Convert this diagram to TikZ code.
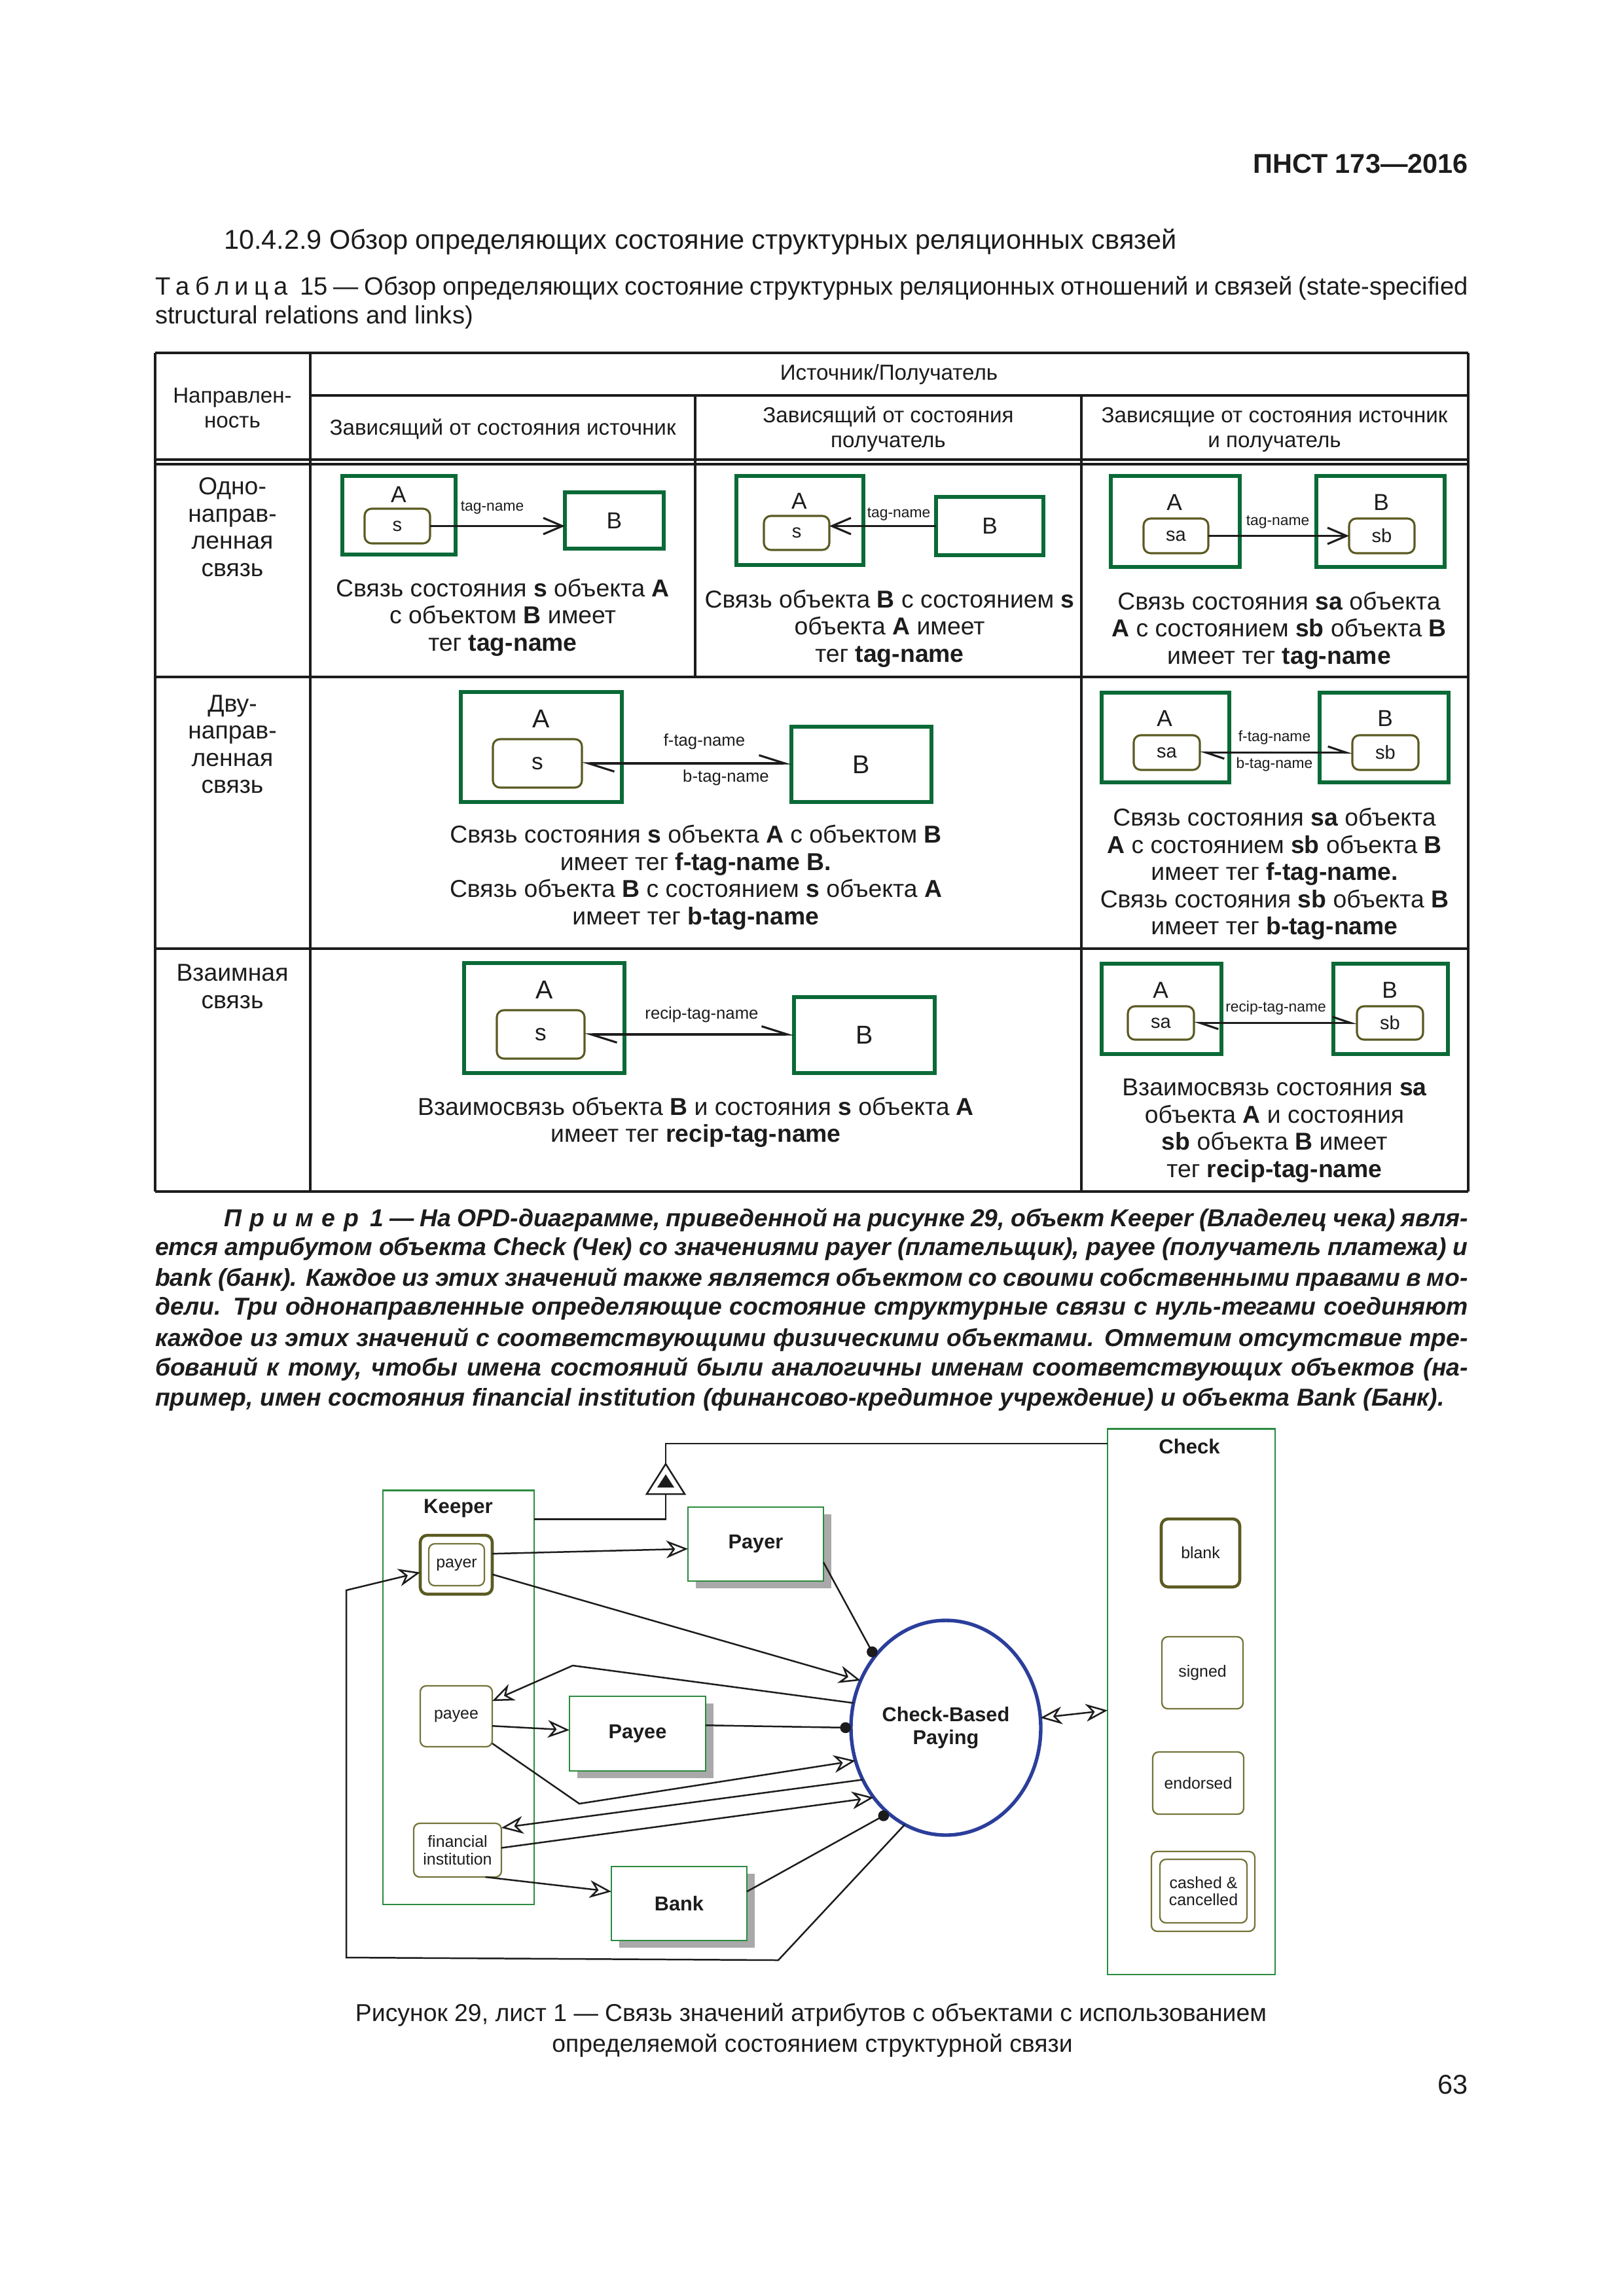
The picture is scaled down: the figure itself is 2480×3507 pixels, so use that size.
\documentclass[tikz,border=0pt]{standalone}
\usepackage{fontspec}
\setmainfont{Liberation Sans}
\usetikzlibrary{arrows.meta,shapes.geometric,shadows}
\definecolor{ink}{HTML}{1C1C1C}
\definecolor{tgreen}{HTML}{0B6A37}
\definecolor{dgreen}{HTML}{2B8B3F}
\definecolor{olivec}{HTML}{5A5A22}
\definecolor{olivel}{HTML}{74743A}
\definecolor{eblue}{HTML}{2B3E9B}
\definecolor{shade}{HTML}{A9A9A9}
\newdimen\pxd
\pxd=0.24093pt
\newcommand\fs[2]{\fontsize{#1}{#2}\selectfont}
\begin{document}
\begin{tikzpicture}[x=0.0084677cm,y=-0.0084677cm,
 every node/.style={inner sep=0pt,outer sep=0pt,text=ink},
 sz/.style 2 args={minimum width=#1*\pxd,minimum height=#2*\pxd},
 tline/.style={draw=ink,line width=0.75pt},
 tbox/.style={draw=tgreen,line width=1.25pt},
 tst/.style={draw=olivec,line width=0.75pt,rounded corners=2.6pt},
 tarr/.style={draw=ink,line width=0.75pt,-{Straight Barb[length=7pt,width=6pt]}},
 harpw/.style={draw=ink,line width=0.75pt,{Straight Barb[left,length=9.5pt,width=6pt]}-{Straight Barb[left,length=9.5pt,width=6pt]}},
 harpn/.style={draw=ink,line width=0.75pt,{Straight Barb[left,length=6.7pt,width=4.5pt]}-{Straight Barb[left,length=6.7pt,width=4.5pt]}},
 cell/.style={align=center,font=\fs{9}{10}},
 hcell/.style={align=center,font=\fs{8}{9.2}},
 ltr/.style={font=\fs{8.5}{9}},
 ltrw/.style={font=\fs{9.5}{10}},
 stt/.style={font=\fs{7}{8}},
 sttw/.style={font=\fs{8.5}{9}},
 tag/.style={font=\fs{5.5}{6}},
 tagw/.style={font=\fs{6.2}{7}},
 body/.style={font=\fs{10}{12}},
 capf/.style={font=\fs{9.2}{11}},
 figc/.style={font=\fs{9}{11}},
 expl/.style={font=\fs{9}{11}\bfseries\itshape},
 dcont/.style={draw=dgreen,line width=0.7pt},
 dobj/.style={draw=dgreen,line width=0.7pt,fill=white,font=\fs{7.4}{9}\bfseries,drop shadow={shadow xshift=2.9pt,shadow yshift=-2.7pt,fill=shade,opacity=1}},
 dttl/.style={font=\fs{7.5}{9}\bfseries},
 dst/.style={draw=olivel,line width=0.55pt,rounded corners=2.2pt,align=center,font=\fs{6}{6.4}},
 dstk/.style={draw=olivec,line width=1.1pt,rounded corners=2.6pt,font=\fs{6}{6.4}},
 dlink/.style={draw=ink,line width=0.6pt},
 oarr/.style={dlink,-{Stealth[open,length=8pt,width=6.5pt,inset=2.5pt]}},
 darr/.style={dlink,{Stealth[open,length=8pt,width=6.5pt,inset=2.5pt]}-{Stealth[open,length=8pt,width=6.5pt,inset=2.5pt]}},
 dotl/.style={dlink,-{Circle[length=4pt]}}
]
\useasboundingbox (0,0) rectangle (2480,3507);
\fill[white] (0,0) rectangle (2480,3507);

% ---------- page texts ----------
\node[anchor=east,font=\fs{10}{12}\bfseries] (hdr) at (2243,250) {ПНСТ 173—2016};
\node[anchor=west,body] (sec) at (342,369) {10.4.2.9 Обзор определяющих состояние структурных реляционных связей};
\node[anchor=west,capf] (cap1) at (237,440) {\makebox[2006\pxd][s]{Т\kern2pt а\kern2pt б\kern2pt л\kern2pt и\kern2pt ц\kern2pt а\ \ 15 — Обзор определяющих состояние структурных реляционных отношений и связей (state-specified}};
\node[anchor=west,capf] (cap2) at (237,485) {structural relations and links)};

% ---------- table grid ----------
\draw[tline] (237,539) -- (2243,539);
\draw[tline] (474,604) -- (2243,604);
\draw[tline] (237,702) -- (2243,702);
\draw[tline] (237,709) -- (2243,709);
\draw[tline] (237,1034) -- (2243,1034);
\draw[tline] (237,1449) -- (2243,1449);
\draw[tline] (237,1820) -- (2243,1820);
\draw[tline] (237,539) -- (237,1820);
\draw[tline] (2243,539) -- (2243,1820);
\draw[tline] (474,539) -- (474,1820);
\draw[tline] (1062,604) -- (1062,1034);
\draw[tline] (1652,604) -- (1652,1820);

% header
\node[hcell] (h0) at (355,623) {Направлен-\\ность};
\node[hcell] (h1) at (1358,572) {Источник/Получатель};
\node[hcell] (h2) at (768,655) {Зависящий от состояния источник};
\node[hcell] (h3) at (1357,656) {Зависящий от состояния\\получатель};
\node[hcell] (h4) at (1947,656) {Зависящие от состояния источник\\и получатель};

% row labels
\node[cell] (r1) at (355,805) {Одно-\\направ-\\ленная\\связь};
\node[cell] (r2) at (355,1137) {Дву-\\направ-\\ленная\\связь};
\node[cell] (r3) at (355,1507) {Взаимная\\связь};

% ---------- row 1, col 2 ----------
\node[tbox,sz={173}{120}] (a1) at (609.5,787) {};
\node[ltr] (a1t) at (609,755) {A};
\node[tst,sz={100}{53},stt] (s1) at (607,803.5) {s};
\node[tbox,sz={151}{86},ltr] (b1) at (938.5,795) {B};
\draw[tarr] (s1.east) -- (s1.east -| b1.west);
\node[tag] (l1) at (752,775) {tag-name};
\node[cell] (t1) at (768,943) {Связь состояния \textbf{s} объекта \textbf{A}\\с объектом \textbf{B} имеет\\тег \textbf{tag-name}};

% ---------- row 1, col 3 ----------
\node[tbox,sz={194}{136}] (a2) at (1222,795) {};
\node[ltr] (a2t) at (1221,765) {A};
\node[tst,sz={100}{52},stt] (s2) at (1217,814) {s};
\node[tbox,sz={164}{89},ltr] (b2) at (1512,803.5) {B};
\draw[tarr] (b2.west) -- (b2.west -| s2.east);
\node[tag] (l2) at (1373,785) {tag-name};
\node[cell] (t2) at (1359,960) {Связь объекта \textbf{B} с состоянием \textbf{s}\\объекта \textbf{A} имеет\\тег \textbf{tag-name}};

% ---------- row 1, col 4 ----------
\node[tbox,sz={197}{139}] (a3) at (1795.5,796.5) {};
\node[ltr] (a3t) at (1794,767) {A};
\node[tst,sz={99}{53},stt] (sa3) at (1796.5,818.5) {sa};
\node[tbox,sz={196}{139}] (b3) at (2109,796.5) {};
\node[ltr] (b3t) at (2110,767) {B};
\node[tst,sz={100}{53},stt] (sb3) at (2111,818.5) {sb};
\draw[tarr] (sa3.east) -- (sb3.west);
\node[tag] (l3) at (1952,797) {tag-name};
\node[cell] (t3) at (1954,963) {Связь состояния \textbf{sa} объекта\\\textbf{A} с состоянием \textbf{sb} объекта \textbf{B}\\имеет тег \textbf{tag-name}};

% ---------- row 2, merged ----------
\node[tbox,sz={246}{168}] (a4) at (827,1141) {};
\node[ltrw] (a4t) at (827,1098) {A};
\node[tst,sz={136}{74},sttw] (s4) at (821,1166) {s};
\node[tbox,sz={214}{115},ltrw] (b4) at (1316,1167.5) {B};
\draw[harpw] (s4.east) -- (s4.east -| b4.west);
\node[tagw] (l4a) at (1076,1133) {f-tag-name};
\node[tagw] (l4b) at (1109,1188) {b-tag-name};
\node[cell] (t4) at (1063,1340) {Связь состояния \textbf{s} объекта \textbf{A} с объектом \textbf{B}\\имеет тег \textbf{f-tag-name B.}\\Связь объекта \textbf{B} с состоянием \textbf{s} объекта \textbf{A}\\имеет тег \textbf{b-tag-name}};

% ---------- row 2, col 4 ----------
\node[tbox,sz={195}{137}] (a5) at (1780.5,1126.5) {};
\node[ltr] (a5t) at (1779,1097) {A};
\node[tst,sz={101}{53},stt] (sa5) at (1782.5,1149.5) {sa};
\node[tbox,sz={197}{137}] (b5) at (2114.5,1126.5) {};
\node[ltr] (b5t) at (2116,1097) {B};
\node[tst,sz={101}{53},stt] (sb5) at (2116.5,1149.5) {sb};
\draw[harpn] (sa5.east) -- (sb5.west);
\node[tag] (l5a) at (1947,1127) {f-tag-name};
\node[tag] (l5b) at (1947,1168) {b-tag-name};
\node[cell] (t5) at (1947,1335) {Связь состояния \textbf{sa} объекта\\\textbf{A} с состоянием \textbf{sb} объекта \textbf{B}\\имеет тег \textbf{f-tag-name.}\\Связь состояния \textbf{sb} объекта \textbf{B}\\имеет тег \textbf{b-tag-name}};

% ---------- row 3, merged ----------
\node[tbox,sz={245}{168}] (a6) at (831.5,1555) {};
\node[ltrw] (a6t) at (832,1512) {A};
\node[tst,sz={134}{74},sttw] (s6) at (826,1580) {s};
\node[tbox,sz={215}{116},ltrw] (b6) at (1320.5,1581) {B};
\draw[harpw] (s6.east) -- (s6.east -| b6.west);
\node[tagw] (l6) at (1072,1550) {recip-tag-name};
\node[cell] (t6) at (1063,1714) {Взаимосвязь объекта \textbf{B} и состояния \textbf{s} объекта \textbf{A}\\имеет тег \textbf{recip-tag-name}};

% ---------- row 3, col 4 ----------
\node[tbox,sz={183}{138}] (a7) at (1774.5,1541) {};
\node[ltr] (a7t) at (1773,1512) {A};
\node[tst,sz={101}{51},stt] (sa7) at (1773.5,1562.5) {sa};
\node[tbox,sz={175}{138}] (b7) at (2124.5,1541) {};
\node[ltr] (b7t) at (2123,1512) {B};
\node[tst,sz={101}{51},stt] (sb7) at (2123.5,1562.5) {sb};
\draw[harpn] (sa7.east) -- (sb7.west);
\node[tag] (l7) at (1949,1540) {recip-tag-name};
\node[cell] (t7) at (1947,1727) {Взаимосвязь состояния \textbf{sa}\\объекта \textbf{A} и состояния\\\textbf{sb} объекта \textbf{B} имеет\\тег \textbf{recip-tag-name}};

% ---------- example paragraph ----------
\node[anchor=west,expl] (e1) at (342,1863) {\makebox[1901\pxd][s]{П\kern3pt р\kern3pt и\kern3pt м\kern3pt е\kern3pt р\ \ 1 — На OPD-диаграмме, приведенной на рисунке 29, объект Keeper (Владелец чека) явля-}};
\node[anchor=west,expl] (e2) at (237,1908) {\makebox[2006\pxd][s]{ется атрибутом объекта Check (Чек) со значениями payer (плательщик), payee (получатель платежа) и}};
\node[anchor=west,expl] (e3) at (237,1954) {\makebox[2006\pxd][s]{bank (банк). Каждое из этих значений также является объектом со своими собственными правами в мо-}};
\node[anchor=west,expl] (e4) at (237,1999) {\makebox[2006\pxd][s]{дели. Три однонаправленные определяющие состояние структурные связи с нуль-тегами соединяют}};
\node[anchor=west,expl] (e5) at (237,2046) {\makebox[2006\pxd][s]{каждое из этих значений с соответствующими физическими объектами. Отметим отсутствие тре-}};
\node[anchor=west,expl] (e6) at (237,2091) {\makebox[2006\pxd][s]{бований к тому, чтобы имена состояний были аналогичны именам соответствующих объектов (на-}};
\node[anchor=west,expl] (e7) at (237,2138) {пример, имен состояния financial institution (финансово-кредитное учреждение) и объекта Bank (Банк).};

% ---------- diagram ----------
\node[dcont,sz={231}{633}] (keeper) at (700.5,2592.5) {};
\node[dttl] (keepert) at (700,2304) {Keeper};
\node[dstk,sz={110}{90}] (payer) at (697,2390) {};
\node[dst,sz={85}{64}] (payerin) at (697.5,2390) {payer};
\node[dst,sz={110}{93}] (payee) at (697,2621.5) {payee};
\node[dst,sz={134}{82}] (fi) at (699,2826) {financial\\institution};

\node[dobj,sz={207}{113}] (oPayer) at (1154.5,2358.5) {Payer};
\node[dobj,sz={208}{114}] (oPayee) at (974,2648) {Payee};
\node[dobj,sz={207}{113}] (oBank) at (1037.5,2907.5) {Bank};

\node[draw=eblue,line width=1.3pt,ellipse,fill=white,sz={290}{328},align=center,font=\fs{7.4}{8.6}\bfseries] (ell) at (1445,2639) {Check-Based\\Paying};

\node[dcont,sz={256}{834}] (check) at (1820,2599) {};
\node[dttl] (checkt) at (1817,2209) {Check};
\node[dstk,sz={120}{104}] (blank) at (1834,2372) {blank};
\node[dst,sz={124}{110}] (signed) at (1837,2555) {signed};
\node[dst,sz={139}{95}] (endorsed) at (1830.5,2723.5) {endorsed};
\node[dst,sz={158}{122}] (cashed) at (1838,2889) {};
\node[dst,sz={133}{97}] (cashedin) at (1838.5,2888.5) {cashed \&\\cancelled};

% aggregation / exhibition symbol
\coordinate (aggtop) at (1017,2236);
\coordinate (aggbase) at (1017,2282);
\draw[dlink,fill=white] (1017,2236) -- (988,2282) -- (1046,2282) -- cycle;
\fill[ink] (1017,2252) -- (1004,2272) -- (1030,2272) -- cycle;
\draw[dlink] (keeper.67.7) -| (aggbase);
\draw[dlink] (aggtop) |- (check.108.5);

% links
\draw[oarr] (payer.17) -- (oPayer.184);
\draw[dotl] (oPayer.345) -- (ell.135);
\draw[oarr] (payer.345) -- (ell.151);
\coordinate (bend1) at (875,2544);
\draw[oarr] (ell.165) -- (bend1) -- (payee.23);
\draw[oarr] (payee.345) -- (oPayee.177);
\draw[dotl] (oPayee.7) -- (ell.180);
\coordinate (bend2) at (885,2755);
\draw[oarr] (payee.323) -- (bend2) -- (ell.200);
\draw[oarr] (ell.212) -- (fi.27.5);
\draw[oarr] (fi.3) -- (ell.224);
\draw[oarr] (fi.316) -- (oBank.170.4);
\draw[dotl] (oBank.10.4) -- (ell.236);
\coordinate (lp1) at (1189,2994);
\coordinate (lp2) at (529,2990);
\coordinate (lp3) at (529,2429);
\draw[oarr] (ell.247) -- (lp1) -- (lp2) -- (lp3) -- (payer.192);
\draw[darr] (ell.6) -- (check.186);

% ---------- caption ----------
\node[figc] (fc1) at (1239,3077) {Рисунок 29, лист 1 — Связь значений атрибутов с объектами с использованием};
\node[figc] (fc2) at (1241,3124) {определяемой состоянием структурной связи};
\node[anchor=east,body] (pg) at (2243,3184) {63};
\end{tikzpicture}
\end{document}
